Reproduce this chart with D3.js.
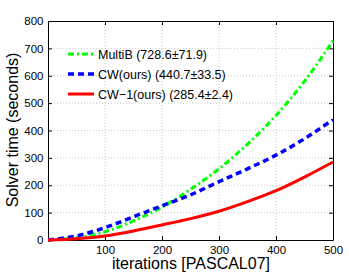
<!DOCTYPE html>
<html>
<head>
<meta charset="utf-8">
<script src="https://cdn.jsdelivr.net/npm/d3@7"></script>
<style>
body { margin: 0; background: #fff; }
text { font-family: "Liberation Sans", Arial, sans-serif; }
</style>
</head>
<body>
<svg width="349" height="275"></svg>
<script>
let iters = [0, 50, 100, 150, 200, 250, 300, 350, 400, 450, 500]
let multiB = [0, 8, 30, 70, 120, 185, 260, 350, 455, 580, 728]
let cw = [0, 15, 45, 85, 125, 165, 213, 260, 310, 370, 440]
let cw1 = [0, 5, 15, 33, 55, 78, 105, 140, 180, 230, 285]
let xTicks = [100, 200, 300, 400, 500]
let yTicks = [0, 100, 200, 300, 400, 500, 600, 700, 800]
let seriesNames = ['MultiB (728.6\u00b171.9)', 'CW(ours) (440.7\u00b133.5)', 'CW\u22121(ours) (285.4\u00b12.4)']

let margin = { left: 48, top: 21, right: 16, bottom: 35 }
let width = 349 - margin.left - margin.right
let height = 275 - margin.top - margin.bottom

let svg = d3.select('svg')
let g = svg.append('g').attr('transform', `translate(${margin.left}, ${margin.top})`)

let xScale = d3.scaleLinear().domain([0, 500]).range([0, width])
let yScale = d3.scaleLinear().domain([0, 800]).range([height, 0])

// grid
g.append('g').selectAll('line').data(xTicks.slice(0, -1)).join('line')
	.attr('x1', d => xScale(d)).attr('x2', d => xScale(d))
	.attr('y1', 0).attr('y2', height)
	.attr('stroke', '#bbb').attr('stroke-width', 0.8).attr('stroke-dasharray', '1,2')
g.append('g').selectAll('line').data(yTicks.slice(1, -1)).join('line')
	.attr('x1', 0).attr('x2', width)
	.attr('y1', d => yScale(d)).attr('y2', d => yScale(d))
	.attr('stroke', '#bbb').attr('stroke-width', 0.8).attr('stroke-dasharray', '1,2')

// axes
let bottomAxis = d3.axisBottom(xScale).tickValues(xTicks).tickSizeInner(-4).tickSizeOuter(0).tickPadding(6)
let leftAxis = d3.axisLeft(yScale).tickValues(yTicks).tickSizeInner(-4).tickSizeOuter(0).tickPadding(4.5)
g.append('g').attr('transform', `translate(0, ${height})`).call(bottomAxis)
g.append('g').call(leftAxis)
let topAxis = d3.axisTop(xScale).tickValues(xTicks).tickSizeInner(-4).tickSizeOuter(0).tickFormat('')
let rightAxis = d3.axisRight(yScale).tickValues(yTicks).tickSizeInner(-4).tickSizeOuter(0).tickFormat('')
g.append('g').call(topAxis)
g.append('g').attr('transform', `translate(${width}, 0)`).call(rightAxis)
g.selectAll('.domain').attr('stroke', '#000').attr('stroke-width', 1)
g.selectAll('.tick text').attr('font-size', 11.5).attr('fill', '#000')
g.selectAll('.tick line').attr('stroke', '#000')

// lines
let line = d3.line().curve(d3.curveMonotoneX)
let series = [
	{ values: multiB, color: '#00ff00', dash: '6,3,2,3', w: 3 },
	{ values: cw, color: '#0000ff', dash: '6,4', w: 3.5 },
	{ values: cw1, color: '#ff0000', dash: null, w: 3 },
]
let plot = g.append('g')
series.forEach(s => {
	plot.append('path')
		.attr('d', line(iters.map((x, i) => [xScale(x), yScale(s.values[i])])))
		.attr('fill', 'none')
		.attr('stroke', s.color)
		.attr('stroke-width', s.w)
		.attr('stroke-dasharray', s.dash)
})

// legend
let legend = svg.append('g')
series.forEach((s, i) => {
	let y = 54 + i * 20
	legend.append('line')
		.attr('x1', 68).attr('x2', 94).attr('y1', y).attr('y2', y)
		.attr('stroke', s.color).attr('stroke-width', s.w)
		.attr('stroke-dasharray', s.dash)
	legend.append('text')
		.attr('x', 98).attr('y', y + 4.5)
		.attr('font-size', 12.5)
		.text(seriesNames[i])
})

// labels
svg.append('text')
	.attr('x', 191).attr('y', 269)
	.attr('text-anchor', 'middle').attr('font-size', 16)
	.text('iterations [PASCAL07]')
svg.append('text')
	.attr('transform', `translate(18, 130) rotate(-90)`)
	.attr('text-anchor', 'middle').attr('font-size', 16)
	.text('Solver time (seconds)')
</script>
</body>
</html>
